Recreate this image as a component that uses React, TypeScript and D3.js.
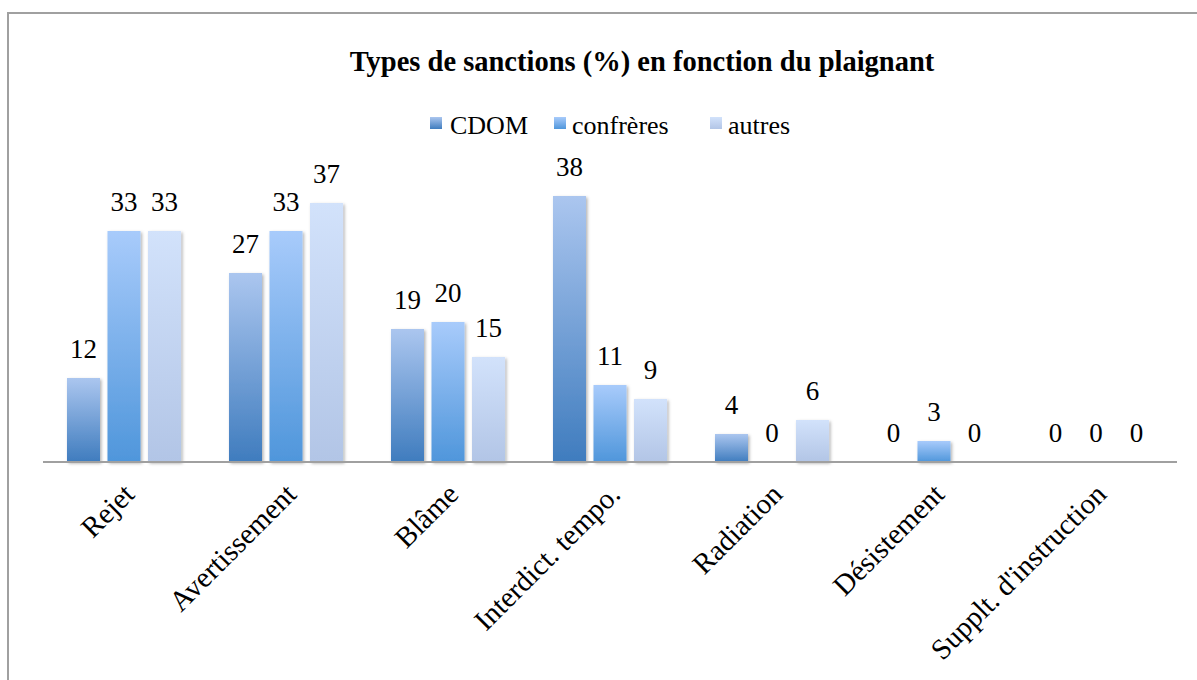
import React from "react";
import * as d3 from "d3";

const categories = ["Rejet", "Avertissement", "Blâme", "Interdict. tempo.", "Radiation", "Désistement", "Supplt. d'instruction"];
const seriesNames = ["CDOM", "confrères", "autres"];
const cdom = [12, 27, 19, 38, 4, 0, 0];
const confreres = [33, 33, 20, 11, 0, 3, 0];
const autres = [33, 37, 15, 9, 6, 0, 0];
const seriesValues = [cdom, confreres, autres];
const title = "Types de sanctions (%) en fonction du plaignant";

const gradStops = [
  ["#abc6ef", "#3f7cbe"],
  ["#a8cbfb", "#4f96db"],
  ["#d2e2fb", "#b2c5e6"],
];

const W = 1197;
const H = 680;
const FONT = "'Liberation Serif', 'DejaVu Serif', serif";

export default function App() {
  const x0 = d3.scaleBand<string>().domain(categories).range([43, 1177]).paddingInner(0.296).paddingOuter(0.148);
  const x1 = d3.scaleBand<string>().domain(seriesNames).range([0, x0.bandwidth()]).paddingInner(0.185).paddingOuter(0);
  const y = d3.scaleLinear().domain([0, 40]).range([462, 182]);

  const legendSwatchX = [430, 554, 710];
  const legendTextX = [450, 572, 728];

  return (
    <svg width={W} height={H} style={{ position: "absolute", left: 0, top: 0, background: "#fff" }} fontFamily={FONT}>
      <defs>
        {gradStops.map((g, i) => (
          <linearGradient key={i} id={`g${i}`} x1="0" y1="0" x2="0" y2="1">
            <stop offset="0%" stopColor={g[0]} />
            <stop offset="100%" stopColor={g[1]} />
          </linearGradient>
        ))}
        <filter id="shadow" x="-20%" y="-20%" width="150%" height="150%">
          <feDropShadow dx="1.5" dy="1.5" stdDeviation="1.5" floodColor="#000" floodOpacity="0.3" />
        </filter>
      </defs>
      <rect x={0} y={0} width={W} height={H} fill="#fff" />
      <path d={`M8,${H} V13 H${W}`} fill="none" stroke="#a0a0a0" strokeWidth={2} />

      <text x={642} y={71} textAnchor="middle" fontWeight="bold" fontSize={28.5} fill="#000">{title}</text>

      {seriesNames.map((s, i) => (
        <g key={s}>
          <rect x={legendSwatchX[i]} y={117} width={12} height={12} fill={`url(#g${i})`} />
          <text x={legendTextX[i]} y={134} fontSize={26} fill="#000">{s}</text>
        </g>
      ))}

      {categories.map((c, ci) => (
        <g key={c} transform={`translate(${x0(c)},0)`}>
          {seriesNames.map((s, si) => {
            const v = seriesValues[si][ci];
            const bx = x1(s)!;
            const bw = x1.bandwidth();
            return (
              <g key={s}>
                {v > 0 && (
                  <rect x={bx} y={y(v)} width={bw} height={y(0) - y(v)} fill={`url(#g${si})`} filter="url(#shadow)" />
                )}
                <text x={bx + bw / 2} y={y(v) - 20} textAnchor="middle" fontSize={27} fill="#000">{v}</text>
              </g>
            );
          })}
        </g>
      ))}

      <line x1={43} x2={1177} y1={y(0)} y2={y(0)} stroke="#a0a0a0" strokeWidth={2} />

      {categories.map((c) => {
        const cx = x0(c)! + x0.bandwidth() / 2 + 12;
        return (
          <text key={c} transform={`translate(${cx},496) rotate(-45)`} textAnchor="end" fontSize={29} fill="#000">{c}</text>
        );
      })}
    </svg>
  );
}
